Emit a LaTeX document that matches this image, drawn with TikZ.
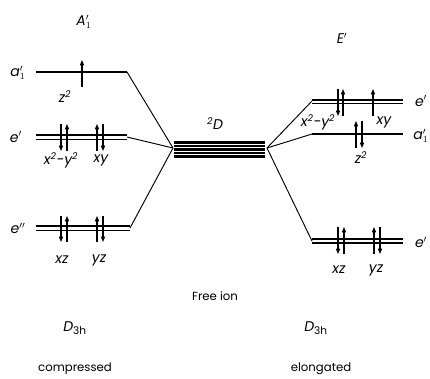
\documentclass[tikz,border=0pt]{standalone}
\usepackage{fontspec}
\setmainfont{Poppins}
\usepackage{tikz}
\usetikzlibrary{arrows.meta, positioning, calc}

\begin{document}
\begin{tikzpicture}[x=0.03cm, y=-0.03cm, font=\normalsize,
	level/.style={line width=1.5pt},
	link/.style={line width=0.8pt},
	spinup/.style={line width=0.9pt, -{Triangle[length=4.5pt, width=3.5pt]}},
	spindown/.style={line width=0.9pt, -{Triangle[length=4.5pt, width=3.5pt]}},
	lbl/.style={font=\itshape\large, inner sep=1pt},
	orb/.style={font=\itshape\large, inner sep=1pt}]

	\useasboundingbox (0,0) rectangle (430,378);

	% 1. Free ion term (stack of lines)
	\foreach \yy in {142.5,146,149.5,153,156.5}
		\draw[line width=1.9pt] (174,\yy) -- (265,\yy);
	\coordinate (dL) at (173,148);
	\coordinate (dR) at (267,148);
	\node[lbl] (term) at (215,124) {\textsuperscript{2}\textit{D}};
	\node (free) at (215,296) {Free ion};

	% 2. Compressed D3h (left)
	\node[lbl] (symL) at (84,22) {\textit{A}$'_{1}$};
	\coordinate (aL) at (127,72);
	\coordinate (eL) at (127,137);
	\coordinate (eeL) at (130,228);
	\draw[level] (36,72) -- (aL);
	\draw[level] (36,135) -- (127,135);
	\draw[level] (36,139.5) -- (127,139.5);
	\draw[level] (36,226) -- (130,226);
	\draw[level] (36,230.5) -- (130,230.5);
	\node[lbl] (aLlab) at (18,73) {a$'_{1}$};
	\node[lbl] (eLlab) at (16,137) {e$'$};
	\node[lbl] (eeLlab) at (18,228) {e$''$};
	% electrons
	\draw[spinup] (82,87) -- (82,60);
	\draw[spindown] (61,124) -- (61,151);
	\draw[spinup] (67,151) -- (67,124);
	\draw[spinup] (97,151) -- (97,124);
	\draw[spindown] (103,124) -- (103,151);
	\draw[spindown] (61,216) -- (61,242);
	\draw[spinup] (67,242) -- (67,216);
	\draw[spinup] (97,242) -- (97,216);
	\draw[spindown] (103,216) -- (103,242);
	\node[orb] (z2L) at (65,97) {z\textsuperscript{2}};
	\node[orb] (x2L) at (61,160) {x\textsuperscript{2}-y\textsuperscript{2}};
	\node[orb] (xyL) at (101,160) {xy};
	\node[orb] (xzL) at (62,260) {xz};
	\node[orb] (yzL) at (99,260) {yz};
	\draw[link] (aL) -- (dL);
	\draw[link] (eL) -- (dL);
	\draw[link] (eeL) -- (dL);

	% 3. Elongated D3h (right)
	\node[lbl] (symR) at (342,38) {\textit{E}$'$};
	\coordinate (eR) at (312,101);
	\coordinate (aR) at (312,134);
	\coordinate (eeR) at (312,241);
	\draw[line width=2.2pt] (312,100) -- (403,100);
	\draw[level] (312,103.5) -- (403,103.5);
	\draw[level] (312,134) -- (403,134);
	\draw[level] (312,239) -- (403,239);
	\draw[level] (312,243) -- (403,243);
	\node[lbl] (eRlab) at (421,101) {e$'$};
	\node[lbl] (aRlab) at (421,136) {a$'_{1}$};
	\node[lbl] (eeRlab) at (421,242) {e$'$};
	% electrons
	\draw[spindown] (338,89) -- (338,116);
	\draw[spinup] (343,116) -- (343,89);
	\draw[spinup] (373,116) -- (373,89);
	\draw[spinup] (356,148) -- (356,121);
	\draw[spindown] (362,121) -- (362,148);
	\draw[spindown] (338,227) -- (338,254);
	\draw[spinup] (344,254) -- (344,227);
	\draw[spinup] (374,254) -- (374,227);
	\draw[spindown] (380,227) -- (380,254);
	\node[orb] (x2R) at (318,122) {x\textsuperscript{2}-y\textsuperscript{2}};
	\node[orb] (xyR) at (384,122) {xy};
	\node[orb] (z2R) at (361,158) {z\textsuperscript{2}};
	\node[orb] (xzR) at (339,270) {xz};
	\node[orb] (yzR) at (376,270) {yz};
	\draw[link] (dR) -- (eR);
	\draw[link] (dR) -- (aR);
	\draw[link] (dR) -- (eeR);

	% 4. Point groups and captions
	\node[lbl] (grpL) at (75,328) {\textit{D}\textsubscript{\normalfont\small 3h}};
	\node[lbl] (grpR) at (316,328) {\textit{D}\textsubscript{\normalfont\small 3h}};
	\node (capL) at (75,369) {compressed};
	\node (capR) at (321,369) {elongated};

\end{tikzpicture}
\end{document}
